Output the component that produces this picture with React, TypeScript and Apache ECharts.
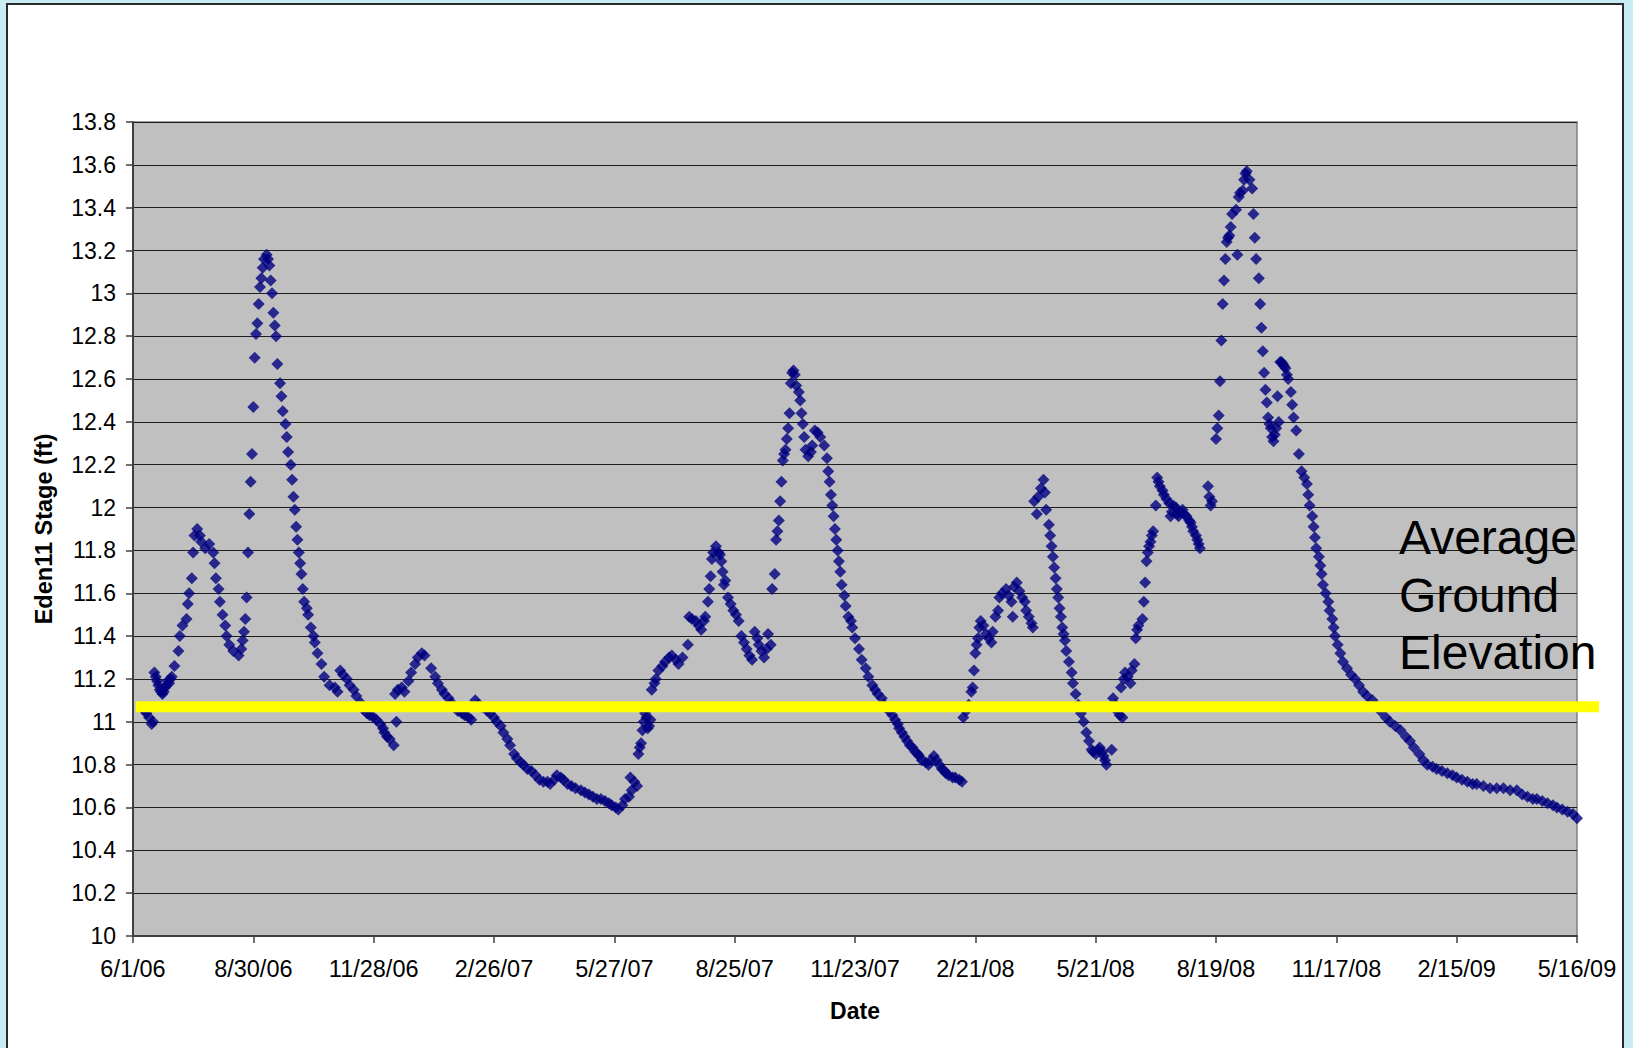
import React, { useEffect, useRef } from "react";
import * as echarts from "echarts";

// Days since 6/1/06 and Eden11 stage (ft)
const season2006: [number, number][] = [
  [8, 11.06], [9, 11.05], [10, 11.04], [12, 11.02], [14, 10.99], [15, 11.0], [16, 11.23], [17, 11.21], [18, 11.19], [19, 11.17],
  [20, 11.15], [21, 11.14], [22, 11.13], [23, 11.14], [24, 11.16], [25, 11.17], [26, 11.19], [27, 11.18], [28, 11.2], [29, 11.21],
  [31, 11.26], [34, 11.33], [35, 11.4], [37, 11.45], [40, 11.48], [41, 11.55], [42, 11.6], [44, 11.67], [45, 11.79], [46, 11.87],
  [48, 11.9], [50, 11.87], [51, 11.84], [54, 11.81], [57, 11.83], [60, 11.79], [61, 11.74], [62, 11.67], [64, 11.62], [65, 11.56],
  [67, 11.5], [69, 11.45], [70, 11.4], [72, 11.36], [75, 11.33], [79, 11.31], [81, 11.34], [82, 11.38], [83, 11.42], [84, 11.48],
  [85, 11.58], [86, 11.79], [87, 11.97], [88, 12.12], [89, 12.25], [90, 12.47], [91, 12.7], [92, 12.81], [93, 12.86], [94, 12.95],
  [95, 13.03], [96, 13.07], [97, 13.12], [98, 13.16], [100, 13.18], [101, 13.16], [102, 13.13], [103, 13.06], [104, 13.0], [105, 12.91],
  [106, 12.85], [107, 12.8], [108, 12.67], [110, 12.58], [111, 12.52], [112, 12.45], [114, 12.39], [115, 12.33], [116, 12.26], [118, 12.2],
  [119, 12.13], [120, 12.05], [121, 11.99], [122, 11.91], [123, 11.85], [124, 11.79], [125, 11.74], [126, 11.69], [127, 11.62], [128, 11.56],
  [130, 11.53], [131, 11.5], [133, 11.44], [135, 11.4], [136, 11.37], [138, 11.32], [141, 11.27], [143, 11.21], [147, 11.17], [151, 11.16],
  [153, 11.14], [155, 11.24], [157, 11.22], [160, 11.2], [162, 11.17], [165, 11.15], [167, 11.12], [170, 11.09], [172, 11.06], [175, 11.04],
  [177, 11.03], [180, 11.02], [182, 11.01], [185, 10.99], [187, 10.97], [188, 10.95], [190, 10.93], [192, 10.92], [195, 10.89], [196, 11.13],
  [197, 11.0], [198, 11.15], [201, 11.16], [203, 11.14], [206, 11.19], [208, 11.23], [211, 11.27], [213, 11.3], [216, 11.32], [218, 11.31],
  [223, 11.25], [226, 11.21], [228, 11.18], [231, 11.15], [233, 11.13], [236, 11.11], [238, 11.09], [241, 11.07], [243, 11.05], [246, 11.04],
  [248, 11.03], [251, 11.02], [253, 11.01], [256, 11.1], [258, 11.08], [261, 11.07], [265, 11.05], [267, 11.04], [270, 11.02], [272, 11.0],
  [275, 10.98], [277, 10.95], [280, 10.92], [282, 10.89], [285, 10.85], [287, 10.83], [290, 10.81], [292, 10.8], [295, 10.78], [298, 10.77],
  [301, 10.75], [304, 10.73], [307, 10.72], [310, 10.72], [312, 10.71], [315, 10.73], [317, 10.75], [320, 10.74], [322, 10.73], [325, 10.71],
  [328, 10.7], [331, 10.69], [335, 10.68], [338, 10.67], [341, 10.66], [344, 10.65], [347, 10.64], [350, 10.64], [353, 10.63], [356, 10.62],
  [358, 10.61], [361, 10.6], [363, 10.59],
];

const season2007: [number, number][] = [
  [366, 10.61], [368, 10.64], [371, 10.65], [372, 10.74], [373, 10.68], [375, 10.72], [377, 10.7], [378, 10.85], [379, 10.88], [380, 10.9],
  [381, 10.96], [382, 11.0], [383, 11.04], [384, 11.02], [385, 10.97], [386, 10.98], [387, 11.01], [388, 11.15], [390, 11.18], [391, 11.2],
  [393, 11.24], [396, 11.26], [398, 11.28], [401, 11.3], [403, 11.31], [406, 11.29], [408, 11.27], [411, 11.3], [415, 11.36], [416, 11.49],
  [418, 11.48], [421, 11.47], [423, 11.45], [425, 11.43], [427, 11.47], [428, 11.49], [430, 11.56], [431, 11.62], [432, 11.68], [433, 11.76],
  [434, 11.79], [436, 11.82], [438, 11.79], [439, 11.78], [440, 11.75], [441, 11.7], [442, 11.64], [443, 11.66], [445, 11.58], [447, 11.55],
  [449, 11.52], [451, 11.5], [453, 11.47], [455, 11.4], [457, 11.37], [459, 11.34], [461, 11.31], [463, 11.29], [465, 11.42], [467, 11.39],
  [468, 11.36], [470, 11.33], [472, 11.3], [474, 11.34], [475, 11.41], [477, 11.36], [478, 11.62], [480, 11.69], [481, 11.85], [482, 11.89],
  [483, 11.94], [484, 12.03], [485, 12.12], [486, 12.22], [487, 12.25], [488, 12.27], [489, 12.32], [490, 12.37], [491, 12.44], [492, 12.58],
  [493, 12.63], [494, 12.64], [495, 12.62], [496, 12.57], [498, 12.54], [499, 12.5], [500, 12.44], [501, 12.39], [502, 12.33], [503, 12.27],
  [505, 12.24], [507, 12.26], [508, 12.29], [510, 12.36], [512, 12.35], [514, 12.33], [517, 12.29], [519, 12.23], [520, 12.17], [521, 12.12],
  [522, 12.06], [523, 12.01], [524, 11.96], [525, 11.9], [526, 11.85], [527, 11.8], [528, 11.75], [529, 11.7], [530, 11.64], [532, 11.59],
  [533, 11.54], [535, 11.49], [537, 11.47], [538, 11.44], [540, 11.39], [543, 11.34], [545, 11.29], [548, 11.25], [550, 11.21], [553, 11.17],
  [555, 11.15], [557, 11.13], [560, 11.11], [562, 11.08], [564, 11.06], [566, 11.05], [568, 11.03], [570, 11.01], [572, 10.99], [573, 10.97],
  [575, 10.95], [577, 10.93], [579, 10.91], [581, 10.89], [583, 10.88], [585, 10.86], [587, 10.85], [588, 10.84], [590, 10.82], [593, 10.81],
  [595, 10.8], [597, 10.82], [599, 10.84], [601, 10.82], [603, 10.8], [605, 10.78], [607, 10.77], [608, 10.76], [610, 10.75], [613, 10.74],
  [615, 10.74], [618, 10.73], [620, 10.72],
  [621, 11.02], [623, 11.05], [625, 11.08], [627, 11.14], [628, 11.16], [629, 11.24], [630, 11.32], [631, 11.36], [632, 11.39], [633, 11.44],
  [634, 11.47], [636, 11.45], [638, 11.41], [640, 11.39], [642, 11.37], [643, 11.42], [645, 11.49], [647, 11.52], [648, 11.58], [650, 11.6],
  [653, 11.62], [655, 11.59], [657, 11.56], [658, 11.49], [659, 11.63], [661, 11.65], [663, 11.61], [665, 11.58], [667, 11.56], [668, 11.52],
  [670, 11.49], [672, 11.46], [673, 11.44], [674, 12.03], [676, 11.97], [677, 12.05], [679, 12.09], [681, 12.13], [682, 12.07], [683, 11.99],
  [685, 11.92], [686, 11.87], [687, 11.82], [688, 11.77], [689, 11.72], [690, 11.67], [691, 11.62], [692, 11.58], [693, 11.53], [694, 11.49],
  [695, 11.44], [696, 11.41], [697, 11.38], [698, 11.33], [700, 11.28], [702, 11.23], [703, 11.18], [705, 11.13], [707, 11.08], [709, 11.04],
  [711, 11.0], [713, 10.95], [715, 10.91], [717, 10.87], [718, 10.86], [720, 10.85], [722, 10.87], [723, 10.88], [725, 10.86], [726, 10.84],
  [727, 10.82], [728, 10.8],
];

const season2008: [number, number][] = [
  [732, 10.87], [733, 11.11], [735, 11.08], [736, 11.05], [738, 11.03], [739, 11.16], [740, 11.02], [741, 11.2], [742, 11.23], [744, 11.21],
  [746, 11.18], [747, 11.24], [749, 11.27], [750, 11.39], [751, 11.43], [752, 11.45], [755, 11.48], [756, 11.56], [757, 11.65], [758, 11.75],
  [759, 11.79], [760, 11.82], [761, 11.84], [762, 11.87], [763, 11.89], [765, 12.01], [766, 12.14], [767, 12.12], [768, 12.1], [770, 12.08],
  [771, 12.06], [773, 12.04], [775, 12.02], [776, 11.96], [777, 11.98], [778, 12.01], [780, 12.0], [781, 11.97], [782, 11.96], [783, 11.98],
  [785, 11.99], [786, 11.97], [788, 11.96], [790, 11.94], [791, 11.93], [792, 11.91], [793, 11.89], [795, 11.87], [796, 11.85], [797, 11.83],
  [798, 11.81], [804, 12.1], [805, 12.05], [806, 12.01], [807, 12.03], [810, 12.32], [811, 12.37], [812, 12.43], [813, 12.59], [814, 12.78],
  [815, 12.95], [816, 13.06], [817, 13.16], [818, 13.24], [819, 13.26], [820, 13.27], [821, 13.31], [822, 13.37], [825, 13.39], [826, 13.18],
  [827, 13.45], [828, 13.47], [830, 13.48], [831, 13.53], [832, 13.56], [833, 13.57], [835, 13.53], [837, 13.49], [838, 13.37], [839, 13.26],
  [840, 13.16], [842, 13.07], [843, 12.95], [844, 12.84], [845, 12.73], [846, 12.63], [847, 12.55], [848, 12.49], [849, 12.42], [850, 12.39],
  [851, 12.37], [852, 12.33], [853, 12.31], [854, 12.34], [855, 12.37], [856, 12.52], [857, 12.4], [858, 12.68], [859, 12.68], [860, 12.67],
  [861, 12.66], [862, 12.65], [863, 12.62], [864, 12.6], [866, 12.54], [867, 12.48], [868, 12.42], [870, 12.36], [872, 12.25], [874, 12.17],
  [876, 12.14], [878, 12.11], [879, 12.06], [880, 12.01], [882, 11.96], [883, 11.91], [884, 11.86], [885, 11.81], [887, 11.77], [888, 11.73],
  [889, 11.69], [890, 11.64], [892, 11.6], [894, 11.56], [895, 11.52], [897, 11.48], [898, 11.44], [899, 11.4], [901, 11.36], [903, 11.32],
  [905, 11.28], [908, 11.25], [911, 11.22], [914, 11.2], [917, 11.17], [920, 11.14], [923, 11.12], [927, 11.1], [930, 11.07], [933, 11.05],
  [937, 11.02], [940, 11.0], [944, 10.98], [948, 10.96], [952, 10.93], [955, 10.91], [958, 10.88], [962, 10.85], [965, 10.82], [968, 10.8],
  [972, 10.79], [975, 10.78], [979, 10.77], [983, 10.76], [987, 10.75], [990, 10.74], [994, 10.73], [998, 10.72], [1002, 10.71], [1005, 10.71],
  [1010, 10.7], [1015, 10.69], [1020, 10.69], [1025, 10.69], [1030, 10.68], [1035, 10.68], [1039, 10.66], [1043, 10.65], [1047, 10.64], [1050, 10.64],
  [1054, 10.63], [1058, 10.62], [1062, 10.61], [1065, 10.6], [1069, 10.59], [1073, 10.58], [1077, 10.57], [1080, 10.55],
];

const groundElevation = 11.07;
const groundLineDays = [2, 1096.5];
const groundLabel = ["Average", "Ground", "Elevation"];

const START = Date.UTC(2006, 5, 1);
const fmtDate = (d: number) => {
  const t = new Date(START + Math.round(d) * 86400000);
  return `${t.getUTCMonth() + 1}/${t.getUTCDate()}/${String(t.getUTCFullYear()).slice(2)}`;
};

const FONT = '"Liberation Sans", Arial, sans-serif';

export default function App() {
  const ref = useRef<HTMLDivElement>(null);
  useEffect(() => {
    if (!ref.current) return;
    const chart = echarts.init(ref.current, null, { renderer: "svg" });
    const axisColor = "#404040";
    chart.setOption({
      animation: false,
      backgroundColor: "#c8ebf4",
      textStyle: { fontFamily: FONT },
      graphic: [
        {
          type: "rect",
          z: -10,
          shape: { x: 7, y: 4, width: 1616, height: 1070 },
          style: { fill: "#ffffff", stroke: "#2a2a2a", lineWidth: 2 },
          silent: true,
        },
        {
          type: "text",
          z: 100,
          x: 1399,
          y: 509,
          style: {
            text: groundLabel.join("\n"),
            fontSize: 48,
            fontFamily: FONT,
            fill: "#000",
            lineHeight: 57.5,
            align: "left",
            verticalAlign: "top",
          },
          silent: true,
        },
      ],
      grid: [
        {
          left: 133,
          top: 122,
          right: 56,
          bottom: 112,
          show: true,
          backgroundColor: "#c0c0c0",
          borderColor: "#808080",
          borderWidth: 1.5,
        },
        // wider frame for the ground-elevation band, which runs past the plot's right edge
        { left: 133, top: 122, right: 34, bottom: 112, show: false },
      ],
      xAxis: [
        {
          type: "value",
          gridIndex: 0,
          min: 0,
          max: 1080,
          interval: 90,
          axisLine: { onZero: false, lineStyle: { color: axisColor, width: 2 } },
          axisTick: { show: true, length: 7, lineStyle: { color: axisColor, width: 1.5 } },
          axisLabel: { fontSize: 23.5, color: "#000", margin: 21, formatter: (v: number) => fmtDate(v), fontFamily: FONT },
          splitLine: { show: false },
          name: "Date",
          nameLocation: "middle",
          nameGap: 63,
          nameTextStyle: { fontSize: 23, fontWeight: "bold", color: "#000", fontFamily: FONT },
        },
        { type: "value", gridIndex: 1, min: 0, max: 1096.5, show: false },
      ],
      yAxis: [
        {
          type: "value",
          gridIndex: 0,
          min: 10,
          max: 13.8,
          interval: 0.2,
          axisLine: { show: true, onZero: false, lineStyle: { color: axisColor, width: 2 } },
          axisTick: { show: true, length: 7, lineStyle: { color: axisColor, width: 1.5 } },
          axisLabel: {
            fontSize: 23,
            color: "#000",
            margin: 17,
            fontFamily: FONT,
            formatter: (v: number) => String(Math.round(v * 10) / 10),
          },
          splitLine: { show: true, lineStyle: { color: "#1e1e1e", width: 1 } },
          name: "Eden11 Stage (ft)",
          nameLocation: "middle",
          nameGap: 77,
          nameTextStyle: { fontSize: 23.5, fontWeight: "bold", color: "#000", fontFamily: FONT },
        },
        { type: "value", gridIndex: 1, min: 10, max: 13.8, show: false, splitLine: { show: false } },
      ],
      series: [
        {
          type: "scatter",
          name: "Eden11 Stage",
          xAxisIndex: 0,
          yAxisIndex: 0,
          data: [...season2006, ...season2007, ...season2008],
          symbol: "diamond",
          symbolSize: 12,
          itemStyle: { color: "#000080" },
          silent: true,
          z: 3,
        },
        {
          type: "line",
          name: "Average Ground Elevation",
          xAxisIndex: 1,
          yAxisIndex: 1,
          data: groundLineDays.map((d) => [d, groundElevation]),
          clip: false,
          symbol: "none",
          lineStyle: { color: "#ffff00", width: 11, cap: "butt" },
          silent: true,
          z: 5,
        },
      ],
    });
    return () => chart.dispose();
  }, []);
  return (
    <div style={{ position: "fixed", left: 0, top: 0, width: 1633, height: 1048 }}>
      <div ref={ref} style={{ width: 1633, height: 1048 }} />
    </div>
  );
}
